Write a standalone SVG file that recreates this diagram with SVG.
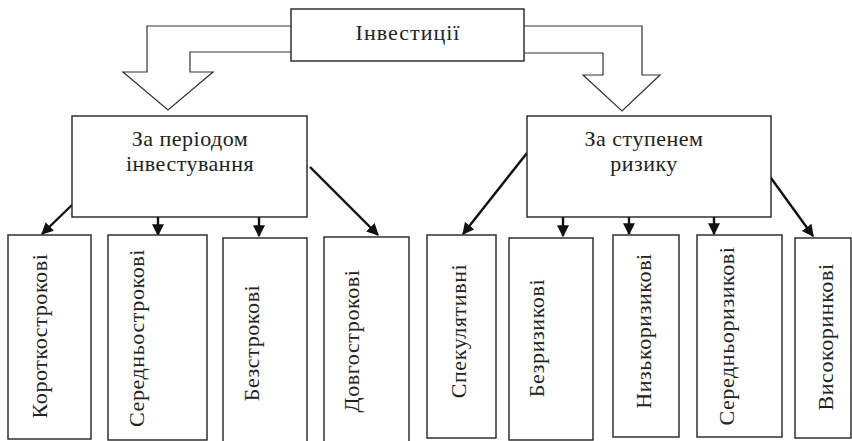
<svg xmlns="http://www.w3.org/2000/svg" width="852" height="441" viewBox="0 0 852 441">
<style>
.box{fill:#fff;stroke:#222;stroke-width:1.4}
.blk{fill:#fff;stroke:#333;stroke-width:1.2;stroke-linejoin:miter}
.con{stroke:#111;stroke-width:2.4;fill:none}
.t{font-family:"Liberation Serif","Times New Roman",serif;fill:#222}
.h{font-size:22px;letter-spacing:1px}
.m{font-size:22px;letter-spacing:0.5px}
.v{font-size:22px;letter-spacing:0.6px}
</style>
<defs>
<marker id="ah" viewBox="0 0 10 10" refX="9" refY="5" markerWidth="5" markerHeight="5" orient="auto" markerUnits="strokeWidth">
<path d="M0,0 L10,5 L0,10 Z" fill="#111"/>
</marker>
</defs>
<g id="connectors">
<path class="blk" d="M291,26 H147 V72 H123 L168,110 L213,72 H190 V52 H291"/>
<path class="blk" d="M524,26 H642 V75 H660 L622,111 L583,75 H603 V53 H524"/>
<line class="con" x1="72" y1="205" x2="42" y2="234" marker-end="url(#ah)"/>
<line class="con" x1="158" y1="217" x2="158" y2="235" marker-end="url(#ah)"/>
<line class="con" x1="259" y1="217" x2="259" y2="236" marker-end="url(#ah)"/>
<line class="con" x1="310" y1="167" x2="378" y2="235" marker-end="url(#ah)"/>
<line class="con" x1="527" y1="153" x2="463" y2="234" marker-end="url(#ah)"/>
<line class="con" x1="563" y1="217" x2="563" y2="236" marker-end="url(#ah)"/>
<line class="con" x1="629" y1="217" x2="629" y2="234" marker-end="url(#ah)"/>
<line class="con" x1="714" y1="217" x2="714" y2="234" marker-end="url(#ah)"/>
<line class="con" x1="763" y1="167" x2="813" y2="236" marker-end="url(#ah)"/>
</g>
<g id="root">
<rect class="box" x="291" y="9" width="233" height="52"/>
<text class="t h" x="408" y="40" text-anchor="middle">Інвестиції</text>
</g>
<g id="period">
<rect class="box" x="72" y="116" width="235" height="101"/>
<text class="t m" x="190" y="146" text-anchor="middle">За періодом</text>
<text class="t m" x="190" y="171" text-anchor="middle">інвестування</text>
</g>
<g id="risk">
<rect class="box" x="527" y="116" width="244" height="101"/>
<text class="t m" x="644" y="146" text-anchor="middle">За ступенем</text>
<text class="t m" x="644" y="171" text-anchor="middle">ризику</text>
</g>
<g id="b1">
<rect class="box" x="8" y="235" width="83" height="204"/>
<text class="t v" transform="translate(47,336) rotate(-90)" text-anchor="middle">Короткострокові</text>
</g>
<g id="b2">
<rect class="box" x="108" y="235" width="99" height="205"/>
<text class="t v" transform="translate(144,338) rotate(-90)" text-anchor="middle">Середньострокові</text>
</g>
<g id="b3">
<rect class="box" x="223" y="238" width="84" height="210"/>
<text class="t v" transform="translate(259,343) rotate(-90)" text-anchor="middle">Безстрокові</text>
</g>
<g id="b4">
<rect class="box" x="324" y="237" width="85" height="210"/>
<text class="t v" transform="translate(359,341) rotate(-90)" text-anchor="middle">Довгострокові</text>
</g>
<g id="b5">
<rect class="box" x="427" y="235" width="69" height="203"/>
<text class="t v" transform="translate(466,331) rotate(-90)" text-anchor="middle">Спекулятивні</text>
</g>
<g id="b6">
<rect class="box" x="509" y="238" width="84" height="202"/>
<text class="t v" transform="translate(544,338) rotate(-90)" text-anchor="middle">Безризикові</text>
</g>
<g id="b7">
<rect class="box" x="613" y="235" width="66" height="202"/>
<text class="t v" transform="translate(651,331) rotate(-90)" text-anchor="middle">Низькоризикові</text>
</g>
<g id="b8">
<rect class="box" x="697" y="235" width="85" height="202"/>
<text class="t v" transform="translate(734,336) rotate(-90)" text-anchor="middle">Середньоризикові</text>
</g>
<g id="b9">
<rect class="box" x="795" y="238" width="56" height="200"/>
<text class="t v" transform="translate(833,337) rotate(-90)" text-anchor="middle">Високоринкові</text>
</g>
</svg>
